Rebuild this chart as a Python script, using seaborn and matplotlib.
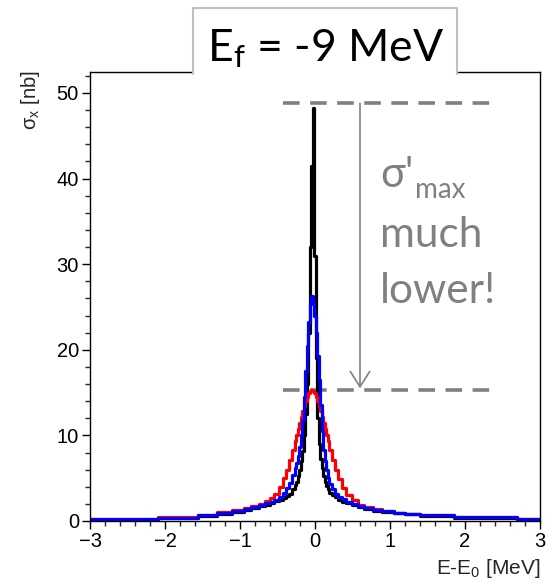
import numpy as np
import pandas as pd
import matplotlib
matplotlib.use("Agg")
import matplotlib.pyplot as plt
import seaborn as sns
from matplotlib.patches import Rectangle
from matplotlib.lines import Line2D

# ---------------- data ----------------
bin_edges = [-3.0, -2.1, -1.56, -1.3, -1.1, -0.95, -0.85, -0.75, -0.67, -0.6, -0.54, -0.48,
             -0.43, -0.39, -0.35, -0.31, -0.27,
             -0.25, -0.23, -0.21, -0.19, -0.17, -0.15, -0.13, -0.11, -0.09, -0.07, -0.05,
             -0.03, -0.01, 0.01, 0.03, 0.05, 0.07, 0.09, 0.11, 0.13, 0.15, 0.17, 0.19,
             0.23, 0.27, 0.31, 0.36, 0.42, 0.49, 0.57, 0.66, 0.77, 0.9, 1.05, 1.2, 1.4,
             1.85, 2.7, 3.0]

black_vals = [0.12, 0.3, 0.6, 0.85, 1.05, 1.3, 1.5, 1.7, 1.9, 2.1, 2.3, 2.5, 2.7, 2.9, 3.2,
              3.7, 4.2, 4.6, 5.2, 6.0, 7.0, 8.2, 10.0, 12.5, 16.0, 22.0, 32.0, 41.5, 48.3,
              31.0, 19.0, 12.0, 9.0, 7.3, 6.2, 5.3, 4.6, 4.1, 3.7, 3.3, 3.0, 2.75, 2.5, 2.25,
              2.05, 1.85, 1.65, 1.42, 1.22, 1.02, 0.88, 0.76, 0.6, 0.35, 0.15]

red_vals = [0.23, 0.42, 0.75, 1.0, 1.25, 1.5, 1.75, 2.0, 2.3, 2.65, 3.2, 4.0, 5.0, 6.0, 7.1,
            8.3, 9.3, 10.0, 10.7, 11.4, 12.1, 12.8, 13.4, 14.0, 14.5, 14.9, 15.2, 15.3, 15.2,
            14.9, 14.5, 14.0, 13.4, 12.8, 12.1, 11.4, 10.7, 10.0, 9.3, 8.3, 7.1, 6.0, 4.9,
            3.8, 3.0, 2.4, 1.9, 1.6, 1.35, 1.15, 0.95, 0.85, 0.7, 0.45, 0.25]

blue_vals = [0.23, 0.4, 0.7, 0.95, 1.15, 1.4, 1.6, 1.85, 2.05, 2.25, 2.5, 2.85, 3.3, 3.8, 4.4,
             5.4, 6.2, 6.8, 7.6, 8.6, 10.0, 11.8, 14.5, 17.5, 20.5, 23.3, 25.3, 26.3, 25.5,
             24.0, 22.0, 19.3, 16.5, 13.5, 10.5, 8.3, 7.0, 5.9, 5.0, 4.3, 3.7, 3.2, 2.85,
             2.55, 2.25, 2.0, 1.75, 1.52, 1.32, 1.12, 0.97, 0.85, 0.7, 0.47, 0.25]

x_ticks = [-3, -2, -1, 0, 1, 2, 3]
y_ticks = [0, 10, 20, 30, 40, 50]
title_text = "E$\\mathregular{_f}$ = -9 MeV"
ylabel_text = "$\\mathregular{\\sigma_x}$ [nb]"
xlabel_text = "E-E$\\mathregular{_0}$ [MeV]"

# ---------------- figure ----------------
W, H = 547, 582
sns.set_theme(style="white")
plt.rcParams["font.family"] = ["Liberation Sans", "DejaVu Sans"]
plt.rcParams["axes.unicode_minus"] = True

fig = plt.figure(figsize=(W / 100, H / 100), dpi=100)
fig.patch.set_facecolor("white")

def fx(px):
    return px / W

def fy(py):
    return 1 - py / H

ax = fig.add_axes([fx(90), fy(521), fx(540) - fx(90), fy(72) - fy(521)])

centers = [(a + b) / 2 for a, b in zip(bin_edges[:-1], bin_edges[1:])]
n = len(centers)
df = pd.DataFrame({"x": centers * 3,
                   "w": black_vals + red_vals + blue_vals,
                   "s": ["black"] * n + ["red"] * n + ["blue"] * n})

for name, col in [("black", "#000000"), ("red", "#ff0000"), ("blue", "#0000ff")]:
    sub = df[df["s"] == name]
    sns.histplot(data=sub, x="x", weights="w", bins=list(bin_edges), element="step",
                 fill=False, color=col, linewidth=2.3, ax=ax)

ax.set_xlim(-3, 3)
ax.set_ylim(0, 52.45)
ax.set_xlabel("")
ax.set_ylabel("")
ax.set_xticks(x_ticks)
ax.set_yticks(y_ticks)
ax.xaxis.set_minor_locator(matplotlib.ticker.MultipleLocator(0.2))
ax.yaxis.set_minor_locator(matplotlib.ticker.MultipleLocator(2))
ax.tick_params(which="major", direction="out", length=6, width=1, labelsize=14.5,
               colors="black", pad=2, bottom=True, left=True)
ax.tick_params(which="minor", direction="out", length=3.5, width=1, bottom=True, left=True)
for sp in ax.spines.values():
    sp.set_color("black")
    sp.set_linewidth(1)

# annotations
gray = "#808080"
top_y = max(black_vals) + 0.5
low_y = max(red_vals)
for yv in (top_y, low_y):
    ax.plot([-0.43, 2.4], [yv, yv], color=gray, lw=2.6, ls=(0, (4.6, 2.9)),
            solid_capstyle="butt", dash_capstyle="butt", zorder=1)
ax.annotate("", xy=(0.6, low_y + 0.2), xytext=(0.6, top_y),
            arrowprops=dict(arrowstyle="->,head_length=0.55,head_width=0.35",
                            color=gray, lw=1.2, mutation_scale=20, shrinkA=0, shrinkB=0))

fig.text(fx(380), fy(187), "σ'", fontsize=30, color=gray, family="Lato", va="baseline")
fig.text(fx(415), fy(198), "max", fontsize=20, color=gray, family="Lato", va="baseline")
fig.text(fx(380), fy(247), "much", fontsize=30.5, color=gray, family="Lato", va="baseline")
fig.text(fx(380), fy(303), "lower!", fontsize=30.5, color=gray, family="Lato", va="baseline")

# title box
fig.add_artist(Rectangle((fx(193), fy(76)), fx(457) - fx(193), fy(8) - fy(76),
                         transform=fig.transFigure, facecolor="white", edgecolor="none", zorder=5))
fig.add_artist(Line2D([fx(193), fx(193), fx(457), fx(457)], [fy(74), fy(8), fy(8), fy(74)],
                      transform=fig.transFigure, color="#bfbfbf", lw=1.5, zorder=6))
fig.text(fx(207), fy(61), title_text, fontsize=32, family="Lato", color="black",
         va="baseline", zorder=7)

# axis labels
fig.text(fx(31), fy(70), ylabel_text, rotation=90, fontsize=14.5, ha="center", va="top")
fig.text(fx(540), fy(574), xlabel_text, fontsize=15, ha="right", va="baseline")

fig.savefig("out.png", dpi=100, facecolor="white")
